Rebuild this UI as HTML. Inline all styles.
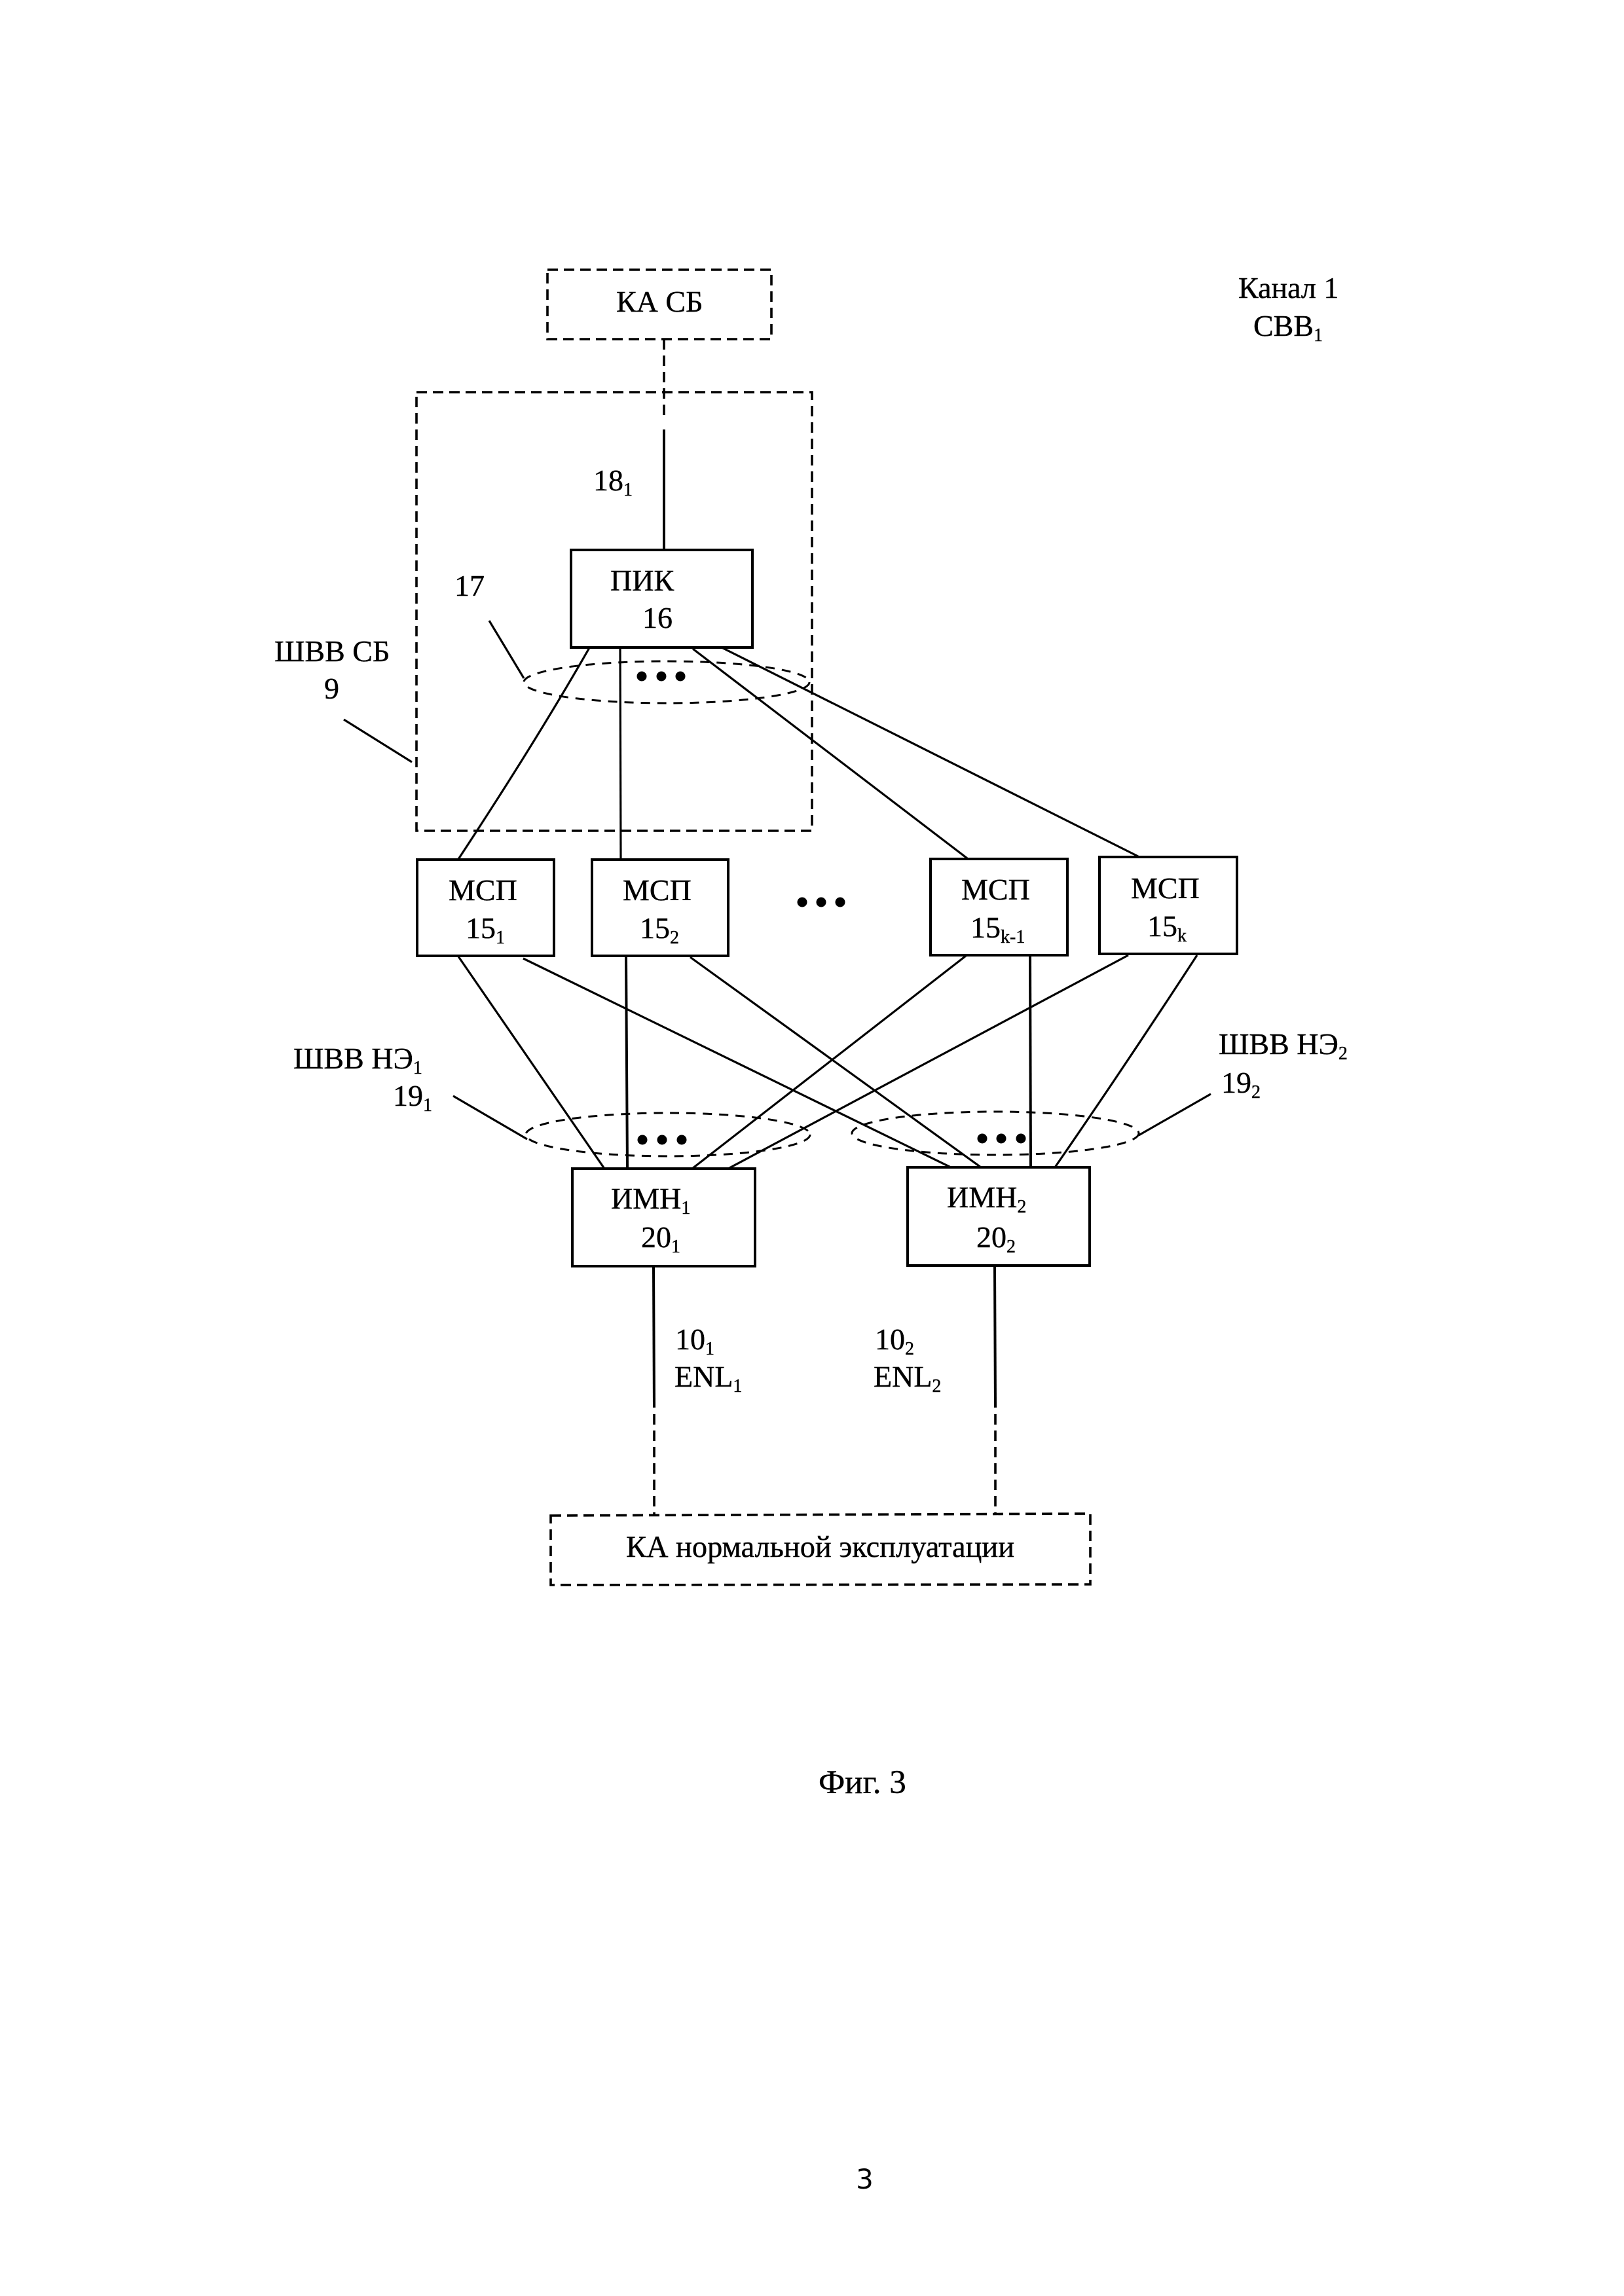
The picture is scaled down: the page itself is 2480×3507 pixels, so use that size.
<!DOCTYPE html>
<html><head><meta charset="utf-8">
<style>
html,body{margin:0;padding:0;background:#fff}
svg{display:block}
text{font-family:"Liberation Serif",serif;font-size:46px;fill:#000;stroke:#000;stroke-width:.4}
.s{font-size:28px}
.n{fill:#fff;stroke:#000;stroke-width:4}
.l{fill:none;stroke:#000;stroke-width:3.2}
.v{fill:none;stroke:#000;stroke-width:4}
.d{fill:none;stroke:#000;stroke-width:3.6;stroke-dasharray:16 9}
.e{fill:none;stroke:#000;stroke-width:3;stroke-dasharray:14 11}
</style></head><body>
<svg width="2480" height="3507" viewBox="0 0 2480 3507" xmlns="http://www.w3.org/2000/svg">
<rect width="2480" height="3507" fill="#fff"/>
<rect class="d" x="836" y="412" width="342" height="106"/>
<rect class="d" x="636" y="599" width="604" height="670"/>
<path class="d" d="M841 2315L1665 2312V2420L841 2421Z"/>
<line class="d" x1="1014" y1="518" x2="1014" y2="642"/>
<line class="v" x1="1014" y1="656" x2="1014" y2="844"/>
<line class="v" x1="998" y1="1936" x2="999" y2="2150"/>
<line class="d" x1="999" y1="2160" x2="999" y2="2315"/>
<line class="v" x1="1519" y1="1935" x2="1520" y2="2150"/>
<line class="d" x1="1520" y1="2160" x2="1520" y2="2312"/>
<ellipse class="e" cx="1018" cy="1042" rx="218" ry="32"/>
<ellipse class="e" cx="1020" cy="1733" rx="217" ry="33"/>
<ellipse class="e" cx="1520" cy="1731" rx="219" ry="33"/>
<path class="l" d="M902 986Q820 1130 699.500 1313"/>
<line class="l" x1="947" y1="986" x2="948" y2="1313"/>
<line class="l" x1="1058" y1="991" x2="1477" y2="1311"/>
<line class="l" x1="1096" y1="986" x2="1738" y2="1308"/>
<line class="l" x1="700" y1="1461" x2="923" y2="1785"/>
<line class="l" x1="799" y1="1464" x2="1452" y2="1783"/>
<line class="v" x1="956" y1="1461" x2="958" y2="1785"/>
<line class="l" x1="1054" y1="1462" x2="1498" y2="1783"/>
<line class="l" x1="1475" y1="1460" x2="1057" y2="1785"/>
<line class="v" x1="1573" y1="1460" x2="1574" y2="1783"/>
<line class="l" x1="1723" y1="1459" x2="1112" y2="1785"/>
<path class="l" d="M1828 1459Q1720 1625 1611 1783"/>
<line class="l" x1="525" y1="1099" x2="629" y2="1164"/>
<line class="l" x1="747" y1="948" x2="800" y2="1036"/>
<line class="l" x1="692" y1="1674" x2="805" y2="1740"/>
<line class="l" x1="1849" y1="1671" x2="1739" y2="1734"/>
<rect class="n" x="872" y="840" width="277" height="149"/>
<rect class="n" x="637" y="1313" width="209" height="147"/>
<rect class="n" x="904" y="1313" width="208" height="147"/>
<rect class="n" x="1421" y="1312" width="209" height="147"/>
<rect class="n" x="1679" y="1309" width="210" height="148"/>
<rect class="n" x="874" y="1785" width="279" height="149"/>
<rect class="n" x="1386" y="1783" width="278" height="150"/>
<g fill="#000">
<circle cx="980" cy="1033" r="7.500"/><circle cx="1010" cy="1033" r="7.500"/><circle cx="1039" cy="1033" r="7.500"/>
<circle cx="1225" cy="1378" r="7.500"/><circle cx="1254" cy="1378" r="7.500"/><circle cx="1283" cy="1378" r="7.500"/>
<circle cx="981" cy="1741" r="7.500"/><circle cx="1011" cy="1741" r="7.500"/><circle cx="1041" cy="1741" r="7.500"/>
<circle cx="1500" cy="1739" r="7.500"/><circle cx="1529" cy="1739" r="7.500"/><circle cx="1559" cy="1739" r="7.500"/>
</g>
<text x="941" y="476">КА СБ</text>
<text x="1891" y="455">Канал 1</text>
<text x="1914" y="513">СВВ<tspan class="s" dy="8">1</tspan></text>
<text x="906" y="749">18<tspan class="s" dy="8">1</tspan></text>
<text x="932" y="902">ПИК</text>
<text x="981" y="959">16</text>
<text x="694" y="910">17</text>
<text x="419" y="1010">ШВВ СБ</text>
<text x="495" y="1067">9</text>
<text x="685" y="1375">МСП</text>
<text x="711" y="1433">15<tspan class="s" dy="8">1</tspan></text>
<text x="951" y="1375">МСП</text>
<text x="977" y="1433">15<tspan class="s" dy="8">2</tspan></text>
<text x="1468" y="1374">МСП</text>
<text x="1482" y="1432">15<tspan class="s" dy="8">k-1</tspan></text>
<text x="1727" y="1372">МСП</text>
<text x="1752" y="1430">15<tspan class="s" dy="8">k</tspan></text>
<text x="448" y="1632">ШВВ НЭ<tspan class="s" dy="8">1</tspan></text>
<text x="600" y="1689">19<tspan class="s" dy="8">1</tspan></text>
<text x="1861" y="1610">ШВВ НЭ<tspan class="s" dy="8">2</tspan></text>
<text x="1865" y="1669">19<tspan class="s" dy="8">2</tspan></text>
<text x="933" y="1846">ИМН<tspan class="s" dy="8">1</tspan></text>
<text x="979" y="1905">20<tspan class="s" dy="8">1</tspan></text>
<text x="1446" y="1844">ИМН<tspan class="s" dy="8">2</tspan></text>
<text x="1491" y="1905">20<tspan class="s" dy="8">2</tspan></text>
<text x="1031" y="2061">10<tspan class="s" dy="8">1</tspan></text>
<text x="1030" y="2118">ENL<tspan class="s" dy="8">1</tspan></text>
<text x="1336" y="2061">10<tspan class="s" dy="8">2</tspan></text>
<text x="1334" y="2118">ENL<tspan class="s" dy="8">2</tspan></text>
<text x="956" y="2378" style="font-size:46.400px">КА нормальной эксплуатации</text>
<text x="1250" y="2739" style="font-size:51px">Фиг. 3</text>
<text x="1320.500" y="3343" text-anchor="middle" style="font-family:'DejaVu Sans',sans-serif;font-size:42px;stroke:none">3</text>
</svg>
</body></html>
